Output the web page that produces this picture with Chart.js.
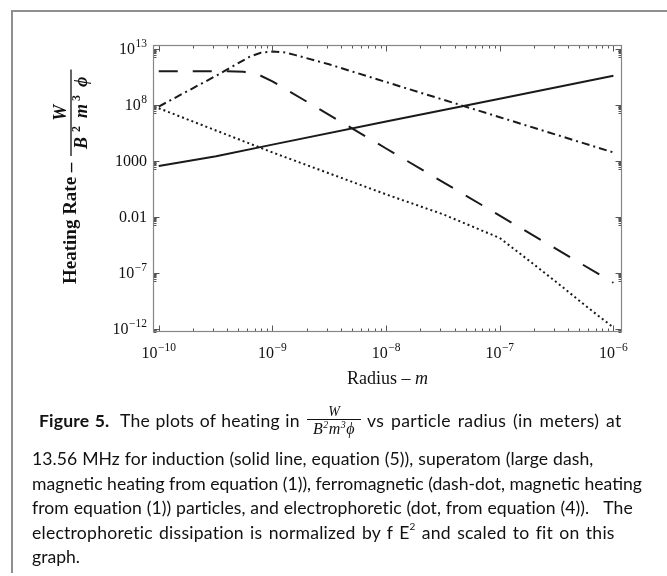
<!DOCTYPE html>
<html>
<head>
<meta charset="utf-8">
<script src="https://cdn.jsdelivr.net/npm/chart.js@4"></script>
<style>
html,body{margin:0;padding:0;background:#fff;}
#wrap{position:relative;width:667px;height:576px;overflow:hidden;background:#fff;}
#frame{position:absolute;left:11px;top:10px;width:720px;height:561px;border-left:2px solid #8f8f8f;border-top:2px solid #8f8f8f;}
#c{position:absolute;left:0;top:0;}
.ln{position:absolute;white-space:nowrap;font-family:Lato,"Open Sans",sans-serif;font-size:16px;line-height:24px;height:24px;color:#111;}
.frac{position:absolute;display:flex;flex-direction:column;align-items:center;font-family:"Liberation Serif",serif;font-style:italic;color:#111;width:54px;}
.frac .num{font-size:14px;line-height:14px;}
.frac .den{font-size:16px;line-height:17px;border-top:1px solid #111;width:54px;text-align:center;letter-spacing:0.5px;}
.frac sup{font-size:10px;line-height:0;vertical-align:6px;}
.ln sup{font-size:10px;line-height:0;vertical-align:9px;}
</style>
</head>
<body>
<div id="wrap">
  <div id="frame"></div>
  <canvas id="c" width="667" height="576"></canvas>
  <div class="ln fit" data-w="261" style="left:39px;top:409px;"><b>Figure 5.</b>&nbsp; The plots of heating in</div>
  <div class="frac" style="left:307px;top:405px;"><span class="num">W</span><span class="den">B<sup>2</sup>m<sup>3</sup>ϕ</span></div>
  <div class="ln fit" data-w="255" style="left:367px;top:409px;">vs particle radius (in meters) at</div>
  <div class="ln fit" data-w="562" style="left:32px;top:447px;">13.56 MHz for induction (solid line, equation (5)), superatom (large dash,</div>
  <div class="ln fit" id="l3" data-w="610" style="left:32px;top:471.5px;">magnetic heating from equation (1)), ferromagnetic (dash-dot, magnetic heating</div>
  <div class="ln fit" data-w="602" style="left:32px;top:496px;">from equation (1)) particles, and electrophoretic (dot, from equation (4)).&nbsp;&nbsp; The</div>
  <div class="ln fit" data-w="583" style="left:32px;top:520.5px;">electrophoretic dissipation is normalized by f E<sup>2</sup> and scaled to fit on this</div>
  <div class="ln" style="left:32px;top:545px;">graph.</div>
</div>
<script>
// ---- data (radius in m, heating rate in W/(B^2 m^3 phi)) ----
const radiusInduction = [1e-10, 3.2e-10, 1e-9, 1e-8, 1e-7, 1e-6];
const heatInduction   = [3.5e2, 2.5e3, 2.8e4, 3.2e6, 3.5e8, 4.0e10];

const radiusSuperatom = [1e-10, 4e-10, 5.6e-10, 7.9e-10, 1e-9, 1e-8, 1e-7, 1e-6];
const heatSuperatom   = [1e11, 1e11, 8.9e10, 4e10, 1.26e10, 1.26e4, 1.26e-2, 1.26e-8];

const radiusFerro = [1e-10, 3.2e-10, 6.3e-10, 7.9e-10, 1e-9, 1.26e-9, 1.6e-9, 3.2e-9, 1e-8, 1e-7, 1e-6];
const heatFerro   = [7.1e7, 4e10, 2e12, 4.5e12, 5.8e12, 5e12, 2.8e12, 4e11, 1.1e10, 7.9e6, 5.6e3];

const radiusElectro = [1e-10, 1e-9, 1e-8, 3.2e-8, 1e-7, 1.8e-7, 3.2e-7, 5.6e-7, 1e-6];
const heatElectro   = [5e7, 5.6e3, 1, 1.6e-2, 1.26e-4, 1.26e-6, 1.26e-8, 1.26e-10, 1.26e-12];

// ---- ticks ----
const xTickValues = [1e-10, 1e-9, 1e-8, 1e-7, 1e-6];
const xTickLabels = [["10","−10"],["10","−9"],["10","−8"],["10","−7"],["10","−6"]];
const yTickValues = [1e13, 1e8, 1e3, 1e-2, 1e-7, 1e-12];
const yTickLabels = [["10","13"],["10","8"],["1000",""],["0.01",""],["10","−7"],["10","−12"]];
const minorMultipliers = [2,3,4,5,6,7,8,9];

const xTitle = ["Radius – ", "m"];
const yTitle = ["Heating Rate – ", "W", "B", "2", "m", "3", "ϕ"];

function pts(xs, ys){ return xs.map((v,i)=>({x:v, y:ys[i]})); }

const SERIF = '"Liberation Serif", "Times New Roman", serif';
function drawPow(ctx, base, exp, x, yBase, align){
  ctx.font = '16px ' + SERIF;
  const wb = ctx.measureText(base).width;
  ctx.font = '11.5px ' + SERIF;
  const we = exp ? ctx.measureText(exp).width + 0.5 : 0;
  const w = wb + we;
  const sx = align === 'center' ? x - w/2 : x - w;
  ctx.font = '16px ' + SERIF;
  ctx.fillText(base, sx, yBase);
  if (exp){ ctx.font = '11.5px ' + SERIF; ctx.fillText(exp, sx + wb + 0.5, yBase - 7); }
}

const decor = {
  id: 'decor',
  afterDatasetsDraw(chart){
    const {ctx, chartArea: a, scales: {x, y}} = chart;
    ctx.save();
    const L = Math.round(a.left)+0.5, R = Math.round(a.right)-0.5, T = Math.round(a.top)+0.5, B = Math.round(a.bottom)-0.5;
    // ticks
    ctx.strokeStyle = '#555'; ctx.lineWidth = 1;
    ctx.beginPath();
    xTickValues.forEach((v, i) => {
      const px = Math.round(x.getPixelForValue(v)) + 0.5;
      ctx.moveTo(px, B); ctx.lineTo(px, B - 6);
      ctx.moveTo(px, T); ctx.lineTo(px, T + 6);
      if (i < xTickValues.length - 1){
        minorMultipliers.forEach(m => {
          const q = Math.round(x.getPixelForValue(v*m)) + 0.5;
          ctx.moveTo(q, B); ctx.lineTo(q, B - 3);
          ctx.moveTo(q, T); ctx.lineTo(q, T + 3);
        });
      }
    });
    yTickValues.forEach(v => {
      const py = Math.round(y.getPixelForValue(v)) + 0.5;
      ctx.moveTo(L, py); ctx.lineTo(L + 6, py);
      ctx.moveTo(R, py); ctx.lineTo(R - 6, py);
      minorMultipliers.forEach(m => {
        const val = v/10*m;
        if (val < y.min || val > y.max) return;
        const q = Math.round(y.getPixelForValue(val)) + 0.5;
        ctx.moveTo(L, q); ctx.lineTo(L + 3, q);
        ctx.moveTo(R, q); ctx.lineTo(R - 3, q);
      });
    });
    ctx.stroke();
    // frame
    ctx.strokeStyle = '#858585'; ctx.lineWidth = 1.2;
    ctx.strokeRect(L, T, R - L, B - T);
    // tick labels
    ctx.fillStyle = '#111'; ctx.textAlign = 'left'; ctx.textBaseline = 'alphabetic';
    xTickValues.forEach((v, i) => {
      drawPow(ctx, xTickLabels[i][0], xTickLabels[i][1], x.getPixelForValue(v), a.bottom + 26, 'center');
    });
    yTickValues.forEach((v, i) => {
      drawPow(ctx, yTickLabels[i][0], yTickLabels[i][1], a.left - 6, y.getPixelForValue(v) + 5.5, 'right');
    });
    // x title
    ctx.font = '18px ' + SERIF;
    const w1 = ctx.measureText(xTitle[0]).width;
    ctx.font = 'italic 18px ' + SERIF;
    const w2 = ctx.measureText(xTitle[1]).width;
    const cx = (a.left + a.right)/2, ty = a.bottom + 52;
    ctx.font = '18px ' + SERIF; ctx.fillText(xTitle[0], cx - (w1+w2)/2, ty);
    ctx.font = 'italic 18px ' + SERIF; ctx.fillText(xTitle[1], cx - (w1+w2)/2 + w1, ty);
    // y title (rotated, reads bottom to top)
    ctx.translate(70, 284);
    ctx.rotate(-Math.PI/2);
    ctx.textBaseline = 'alphabetic';
    ctx.font = 'bold 19px ' + SERIF;
    ctx.fillText(yTitle[0], 0, 6);
    const off = ctx.measureText(yTitle[0]).width + 2;
    const parts = [[yTitle[2],'bold italic 18px',0,5],[yTitle[3],'bold 12px',-7,8],[yTitle[4],'bold italic 18px',0,3],[yTitle[5],'bold 12px',-7,8],[yTitle[6],'bold italic 18px',0,0]];
    let dw = 0; const ws = [];
    parts.forEach(p => { ctx.font = p[1] + ' ' + SERIF; const w = ctx.measureText(p[0]).width + p[3]; ws.push(w); dw += w; });
    const barW = dw + 14;
    ctx.lineWidth = 1.3; ctx.strokeStyle = '#111';
    ctx.beginPath(); ctx.moveTo(off, 1); ctx.lineTo(off + barW, 1); ctx.stroke();
    ctx.font = 'bold italic 18px ' + SERIF; ctx.textAlign = 'center';
    ctx.fillText(yTitle[1], off + barW/2, -4);
    ctx.textAlign = 'left';
    let px = off + 7;
    parts.forEach((p, i) => { ctx.font = p[1] + ' ' + SERIF; ctx.fillText(p[0], px, 17 + p[2]); px += ws[i]; });
    ctx.restore();
  }
};

new Chart(document.getElementById('c'), {
  type: 'scatter',
  data: {
    datasets: [
      {label:'induction', data: pts(radiusInduction, heatInduction), borderColor:'#1a1a1a', borderWidth:2},
      {label:'superatom', data: pts(radiusSuperatom, heatSuperatom), borderColor:'#1a1a1a', borderWidth:2, borderDash:[19,15]},
      {label:'ferromagnetic', data: pts(radiusFerro, heatFerro), borderColor:'#1a1a1a', borderWidth:2, borderDash:[8,4,2,4]},
      {label:'electrophoretic', data: pts(radiusElectro, heatElectro), borderColor:'#1a1a1a', borderWidth:2, borderDash:[2,3]}
    ].map(d => Object.assign({showLine:true, pointRadius:0, fill:false, tension:0, borderCapStyle:'butt'}, d))
  },
  options: {
    responsive: false,
    devicePixelRatio: 1,
    animation: false,
    layout: {padding: {left:153, top:45, right:45, bottom:244}},
    plugins: {legend:{display:false}, tooltip:{enabled:false}},
    scales: {
      x: {type:'logarithmic', display:false, min: 8.9e-11, max: 1.19e-6},
      y: {type:'logarithmic', display:false, min: 5e-13, max: 2.24e13}
    }
  },
  plugins: [decor]
});

// caption: one font size taken from the longest line, then small spacing tweaks per line
(function(){
  const lines = document.querySelectorAll('.ln');
  const l3 = document.getElementById('l3');
  const f = 16 * parseFloat(l3.dataset.w) / l3.getBoundingClientRect().width;
  lines.forEach(el => el.style.fontSize = f.toFixed(2) + 'px');
  document.querySelectorAll('.fit').forEach(el => {
    const target = parseFloat(el.dataset.w);
    const w = el.getBoundingClientRect().width;
    const txt = el.textContent;
    const n = txt.length;
    const spaces = (txt.match(/[ \u00a0]/g) || []).length || 1;
    const diff = target - w;
    el.style.letterSpacing = (diff * 0.5 / n).toFixed(3) + 'px';
    el.style.wordSpacing = (diff * 0.5 / spaces).toFixed(3) + 'px';
  });
})();
</script>
</body>
</html>
